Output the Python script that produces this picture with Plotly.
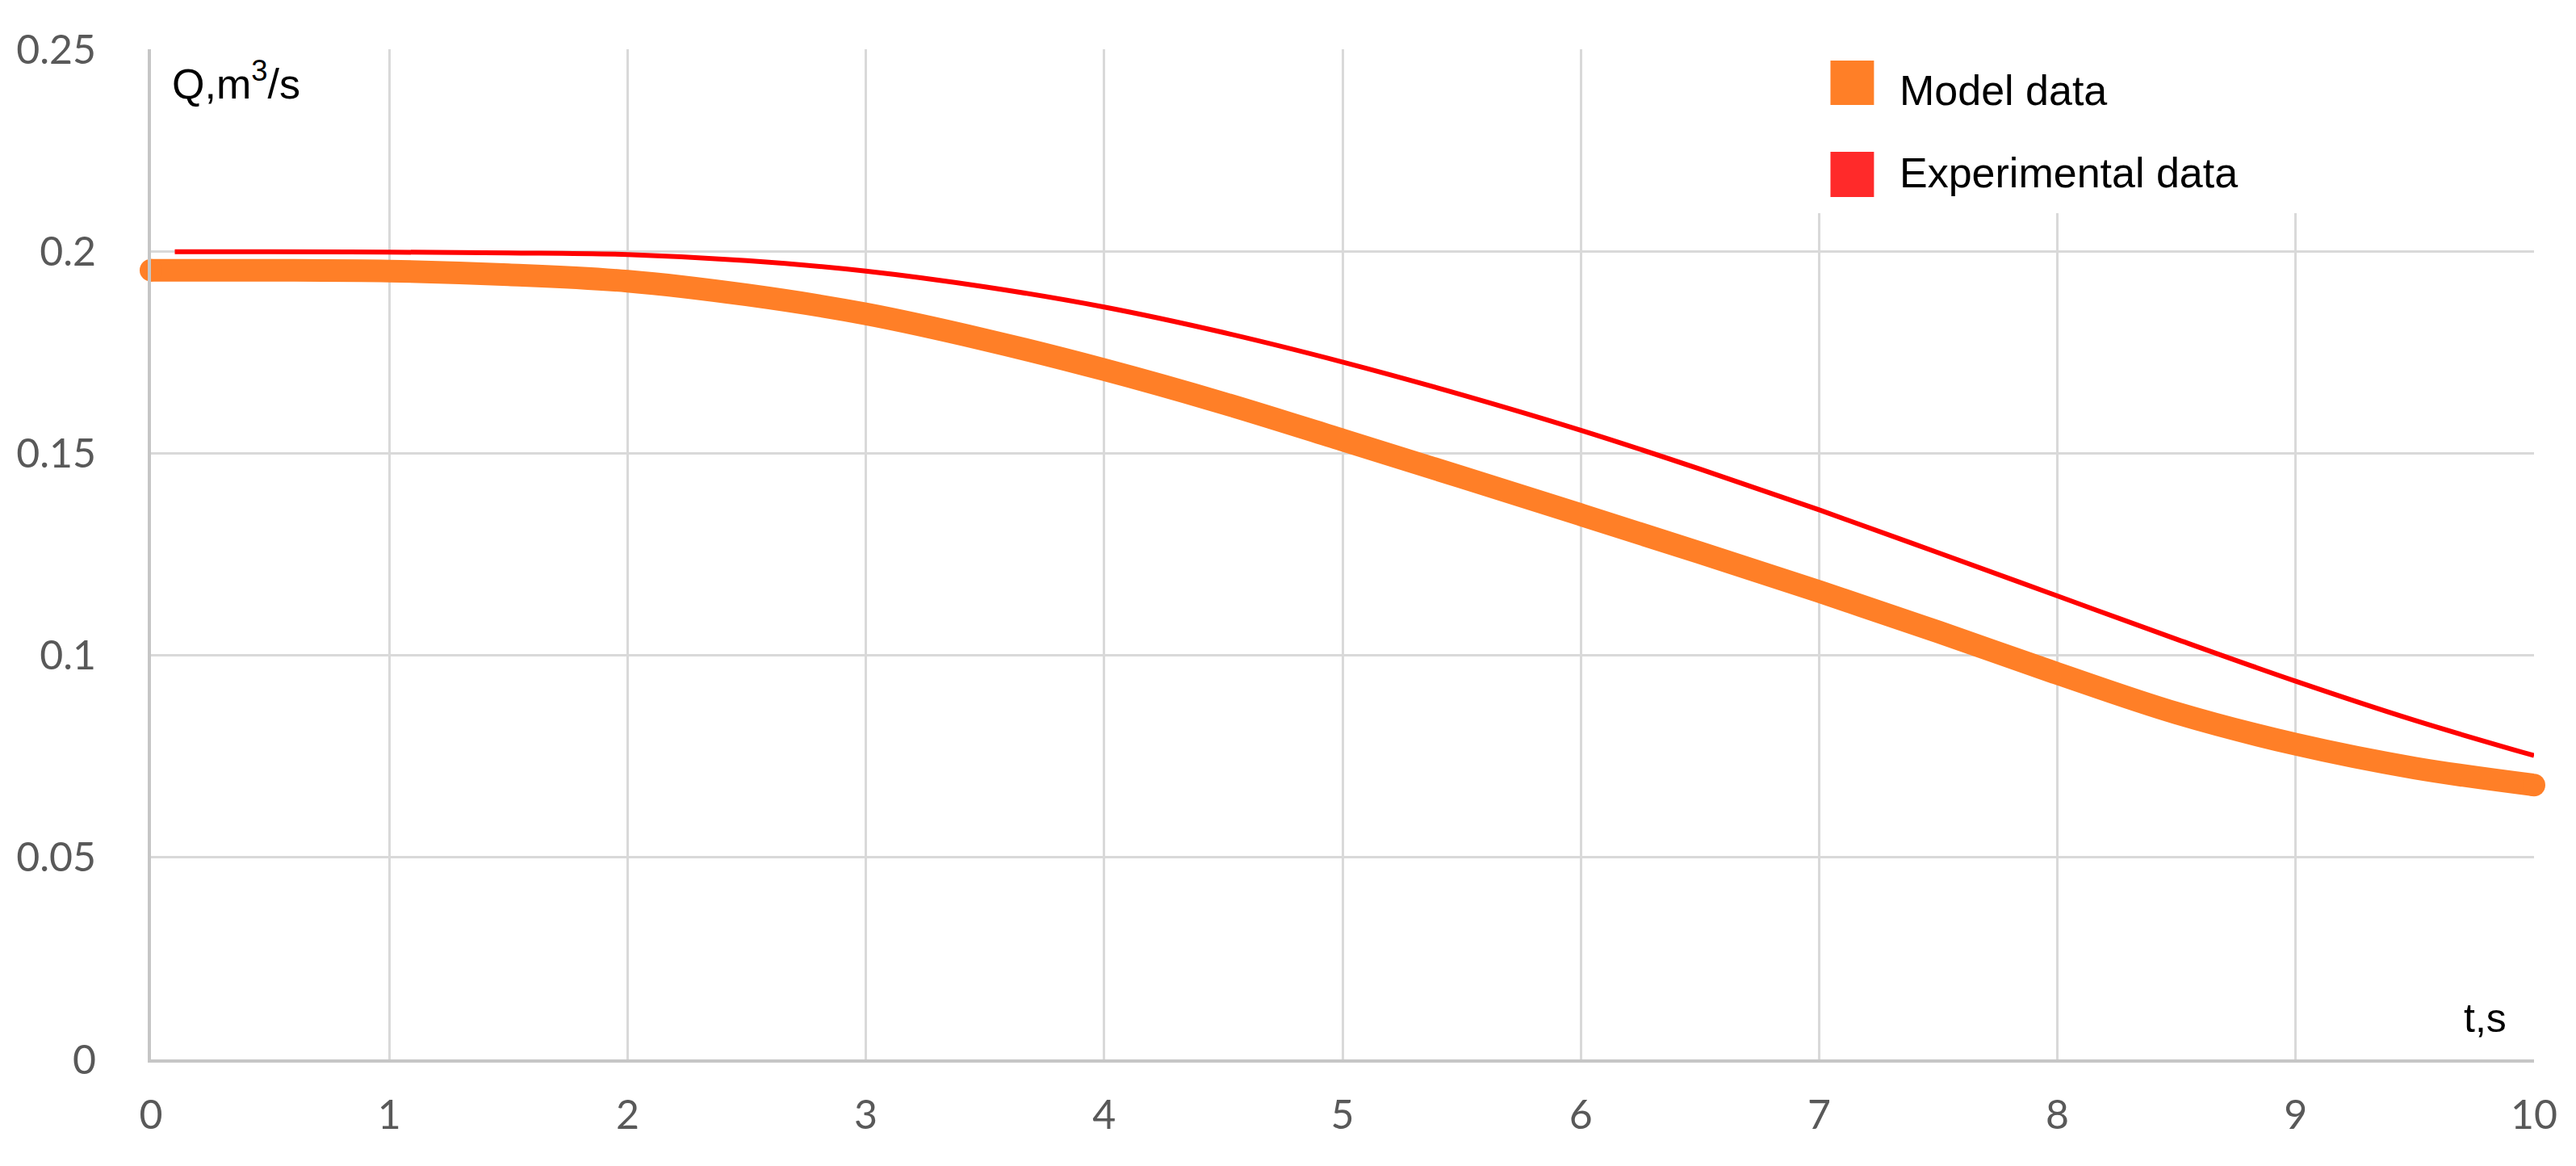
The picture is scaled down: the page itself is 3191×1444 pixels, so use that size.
import plotly.graph_objects as go

# ---- data ----
t_model = [0, 0.5, 1, 1.5, 2, 2.5, 3, 3.5, 4, 4.5, 5, 5.5, 6, 6.5, 7, 7.5, 8, 8.5, 9, 9.5, 10]
q_model = [0.1953, 0.1953, 0.1951, 0.1942, 0.1926, 0.1892, 0.1845, 0.1781, 0.1707, 0.1624,
           0.1533, 0.1441, 0.1348, 0.1254, 0.1158, 0.1058, 0.0955, 0.0857, 0.0780, 0.0721, 0.0679]

t_exp = [0.1, 0.5, 1, 1.5, 2, 2.5, 3, 3.5, 4, 4.5, 5, 5.5, 6, 6.5, 7, 7.5, 8, 8.5, 9, 9.5, 10]
q_exp = [0.1999, 0.1999, 0.1998, 0.1996, 0.1992, 0.1977, 0.1951, 0.1912, 0.1862, 0.1799,
         0.1726, 0.1645, 0.1557, 0.1461, 0.1360, 0.1254, 0.1147, 0.1040, 0.0936, 0.0839, 0.0752]

x_ticks = [0, 1, 2, 3, 4, 5, 6, 7, 8, 9, 10]
y_ticks = [0, 0.05, 0.1, 0.15, 0.2, 0.25]
y_tick_text = ["0", "0.05", "0.1", "0.15", "0.2", "0.25"]

series_names = ["Model data", "Experimental data"]
ORANGE = "#FF7F27"
RED = "#FF0000"
RED_KEY = "#FF2A2A"

fig = go.Figure()

# model data: thick orange line
fig.add_trace(go.Scatter(
    x=t_model, y=q_model, name=series_names[0], mode="lines",
    line=dict(color=ORANGE, width=28, shape="spline", smoothing=1.0),
    showlegend=False, hoverinfo="x+y", cliponaxis=False,
))
# rounded ends of the model line (first and last data points)
fig.add_trace(go.Scatter(
    x=[t_model[0], t_model[-1]], y=[q_model[0], q_model[-1]], mode="markers",
    marker=dict(color=ORANGE, size=28, line=dict(width=0)),
    showlegend=False, hoverinfo="skip", cliponaxis=False,
))
fig.add_trace(go.Scatter(
    x=t_exp, y=q_exp, name=series_names[1], mode="lines",
    line=dict(color=RED, width=6, shape="spline", smoothing=1.0),
    showlegend=False, hoverinfo="x+y", cliponaxis=False,
))

L, R, T, B = 174, 60, 53, 140
W, H = 3191, 1444
pw, ph = W - L - R, H - T - B


def px(xp):
    return (xp - L) / pw


def py(yp):
    return (H - B - yp) / ph


shapes = [
    # white legend panel covering the grid
    dict(type="rect", xref="paper", yref="paper", x0=px(2206), x1=1.03, y0=py(256), y1=1.05,
         fillcolor="white", line=dict(width=0), layer="above"),
    dict(type="rect", xref="paper", yref="paper", x0=px(2258), x1=px(2312), y0=py(122), y1=py(67),
         fillcolor=ORANGE, line=dict(width=0), layer="above"),
    dict(type="rect", xref="paper", yref="paper", x0=px(2258), x1=px(2312), y0=py(236), y1=py(180),
         fillcolor=RED_KEY, line=dict(width=0), layer="above"),
]

annotations = [
    dict(text=series_names[0], xref="paper", yref="paper", x=px(2342), y=py(104),
         xanchor="left", yanchor="middle", showarrow=False,
         font=dict(family="Liberation Sans, Arial", size=52, color="#000000")),
    dict(text=series_names[1], xref="paper", yref="paper", x=px(2342), y=py(206),
         xanchor="left", yanchor="middle", showarrow=False,
         font=dict(family="Liberation Sans, Arial", size=52, color="#000000")),
    dict(text="Q,m<sup>3</sup>/s", xref="paper", yref="paper", x=px(198), y=py(92),
         xanchor="left", yanchor="middle", showarrow=False,
         font=dict(family="Liberation Sans, Arial", size=52, color="#000000")),
    dict(text="t,s", xref="paper", yref="paper", x=px(3099), y=py(1253),
         xanchor="right", yanchor="middle", showarrow=False,
         font=dict(family="Liberation Sans, Arial", size=50, color="#000000")),
]

fig.update_layout(
    width=W, height=H,
    margin=dict(l=L, r=R, t=T, b=B, pad=0),
    paper_bgcolor="white", plot_bgcolor="white",
    shapes=shapes, annotations=annotations,
    showlegend=False,
)

tick_font = dict(family="Lato, Carlito, Calibri, sans-serif", size=50, color="#595959")

fig.update_xaxes(
    range=[0, 10], tickmode="array", tickvals=x_ticks, ticktext=[str(v) for v in x_ticks],
    showgrid=True, gridcolor="#D9D9D9", gridwidth=3,
    showline=True, linecolor="#C6C6C6", linewidth=4, zeroline=False,
    ticks="", tickfont=tick_font, ticklabelstandoff=22,
)
fig.update_yaxes(
    range=[0, 0.25], tickmode="array", tickvals=y_ticks, ticktext=y_tick_text,
    showgrid=True, gridcolor="#D9D9D9", gridwidth=3,
    showline=True, linecolor="#C6C6C6", linewidth=4, zeroline=False,
    ticks="", tickfont=tick_font, ticklabelstandoff=54,
)

fig.write_html("out.html")
